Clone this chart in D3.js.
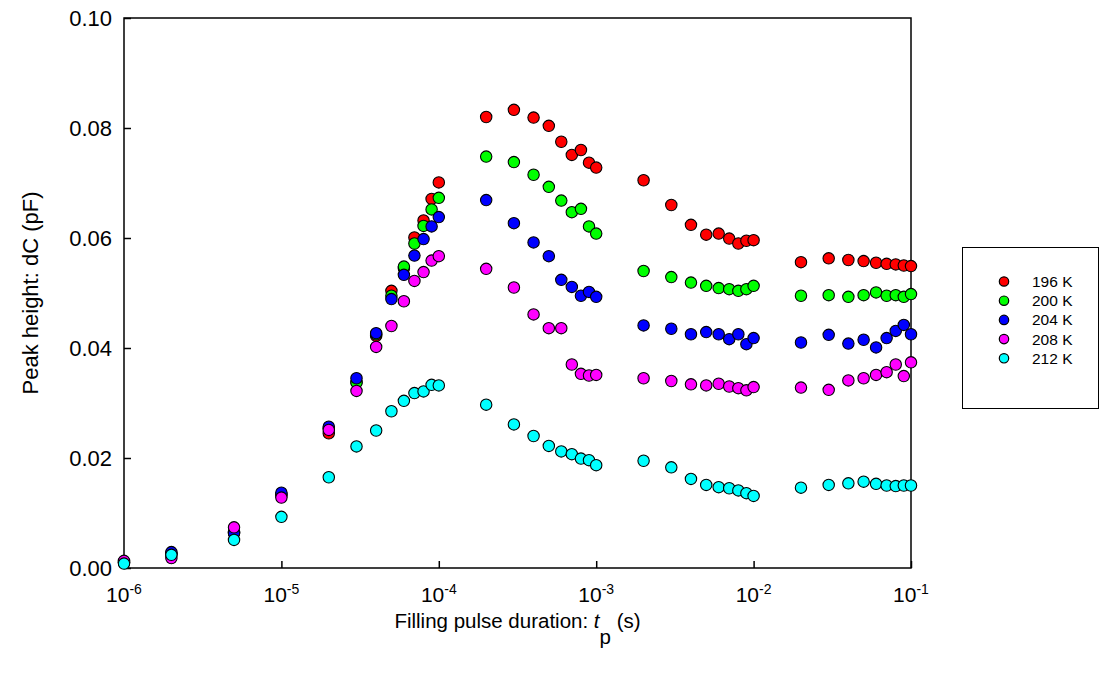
<!DOCTYPE html>
<html>
<head>
<meta charset="utf-8">
<script src="https://cdn.jsdelivr.net/npm/d3@7"></script>
<style>
  body { margin: 0; background: #fff; }
  svg { display: block; font-family: Arial, "Liberation Sans", sans-serif; }
</style>
</head>
<body>
<div id="plot"></div>
<script>
// data
var pulseTimes = [1e-6, 2e-6, 5e-6, 1e-5, 2e-5, 3e-5, 4e-5, 5e-5, 6e-5, 7e-5, 8e-5, 9e-5, 1e-4,
    2e-4, 3e-4, 4e-4, 5e-4, 6e-4, 7e-4, 8e-4, 9e-4, 1e-3,
    2e-3, 3e-3, 4e-3, 5e-3, 6e-3, 7e-3, 8e-3, 9e-3, 1e-2,
    2e-2, 3e-2, 4e-2, 5e-2, 6e-2, 7e-2, 8e-2, 9e-2, 1e-1];

var temps = ["196 K", "200 K", "204 K", "208 K", "212 K"];
var colors = ["#ff0000", "#00ff00", "#0000ff", "#ff00ff", "#00ffff"];

var dc196 = [0.0010, 0.0025, 0.0065, 0.0132, 0.0245, 0.0338, 0.0422, 0.0504, 0.0545, 0.0601, 0.0632, 0.0671, 0.0701,
    0.0820, 0.0833, 0.0819, 0.0804, 0.0775, 0.0751, 0.0760, 0.0737, 0.0728,
    0.0705, 0.0660, 0.0624, 0.0606, 0.0608, 0.0599, 0.0590, 0.0595, 0.0596,
    0.0556, 0.0563, 0.0560, 0.0558, 0.0555, 0.0553, 0.0552, 0.0550, 0.0549];
var dc200 = [0.0010, 0.0026, 0.0064, 0.0134, 0.0254, 0.0337, 0.0425, 0.0495, 0.0548, 0.0590, 0.0622, 0.0652, 0.0673,
    0.0748, 0.0738, 0.0715, 0.0693, 0.0668, 0.0647, 0.0653, 0.0621, 0.0608,
    0.0540, 0.0529, 0.0519, 0.0513, 0.0509, 0.0507, 0.0504, 0.0507, 0.0513,
    0.0495, 0.0496, 0.0493, 0.0496, 0.0501, 0.0495, 0.0496, 0.0493, 0.0498];
var dc204 = [0.0011, 0.0029, 0.0063, 0.0137, 0.0257, 0.0345, 0.0427, 0.0489, 0.0533, 0.0568, 0.0598, 0.0621, 0.0638,
    0.0669, 0.0627, 0.0592, 0.0567, 0.0524, 0.0511, 0.0495, 0.0502, 0.0493,
    0.0441, 0.0435, 0.0425, 0.0429, 0.0425, 0.0416, 0.0425, 0.0407, 0.0418,
    0.0410, 0.0424, 0.0408, 0.0415, 0.0401, 0.0418, 0.0431, 0.0442, 0.0425];
var dc208 = [0.0013, 0.0018, 0.0074, 0.0128, 0.0251, 0.0322, 0.0402, 0.0440, 0.0485, 0.0522, 0.0538, 0.0559, 0.0567,
    0.0544, 0.0510, 0.0461, 0.0436, 0.0436, 0.0370, 0.0353, 0.0350, 0.0351,
    0.0345, 0.0340, 0.0334, 0.0332, 0.0335, 0.0330, 0.0327, 0.0323, 0.0329,
    0.0328, 0.0324, 0.0341, 0.0345, 0.0351, 0.0356, 0.0370, 0.0349, 0.0374];
var dc212 = [0.0008, 0.0024, 0.0051, 0.0093, 0.0165, 0.0221, 0.0250, 0.0285, 0.0304, 0.0318, 0.0321, 0.0333, 0.0332,
    0.0297, 0.0261, 0.0240, 0.0222, 0.0212, 0.0207, 0.0199, 0.0196, 0.0187,
    0.0195, 0.0183, 0.0162, 0.0151, 0.0147, 0.0145, 0.0141, 0.0136, 0.0131,
    0.0146, 0.0151, 0.0154, 0.0157, 0.0153, 0.0150, 0.0149, 0.0150, 0.0150];

var xTicks = [1e-6, 1e-5, 1e-4, 1e-3, 1e-2, 1e-1];
var xTickExp = ["-6", "-5", "-4", "-3", "-2", "-1"];
var yTicks = [0, 0.02, 0.04, 0.06, 0.08, 0.10];

var series = [dc196, dc200, dc204, dc208, dc212];

var W = 1100, H = 676;
var margin = {t: 18, r: 189, b: 108, l: 124};
var width = W - margin.l - margin.r,
    height = H - margin.t - margin.b;

var svg = d3.select('#plot')
    .append('svg')
    .attr('width', W)
    .attr('height', H);

var scaleX = d3.scaleLog().domain([1e-6, 1e-1]).range([0, width]);
var scaleY = d3.scaleLinear().domain([0, 0.10]).range([height, 0]);

var plot = svg.append('g')
    .attr('transform', 'translate(' + margin.l + ',' + margin.t + ')');

// axes, ticks point into the frame
var axisX = d3.axisBottom(scaleX).tickValues(xTicks).tickSizeInner(-7).tickSizeOuter(0).tickFormat('');
var axisY = d3.axisLeft(scaleY).tickValues(yTicks).tickSizeInner(-7).tickSizeOuter(0).tickFormat('');

plot.append('g').attr('class', 'axis-x')
    .attr('transform', 'translate(0,' + height + ')')
    .call(axisX);
plot.append('g').attr('class', 'axis-y')
    .call(axisY);

plot.selectAll('.domain').remove();
plot.selectAll('.tick line').attr('stroke', '#000').attr('stroke-width', 1.5);

// frame
plot.append('rect')
    .attr('x', 0).attr('y', 0)
    .attr('width', width).attr('height', height)
    .attr('fill', 'none')
    .attr('stroke', '#000')
    .attr('stroke-width', 1.5);

// y tick labels
plot.selectAll('.ylab')
    .data(yTicks)
    .enter()
    .append('text')
    .attr('class', 'ylab')
    .attr('x', -12)
    .attr('y', function(d) { return scaleY(d); })
    .attr('dy', '0.36em')
    .attr('text-anchor', 'end')
    .style('font-size', '22px')
    .text(function(d) { return d3.format('.2f')(d); });

// x tick labels 10^n
var xl = plot.selectAll('.xlab')
    .data(xTicks)
    .enter()
    .append('text')
    .attr('class', 'xlab')
    .attr('x', function(d) { return scaleX(d); })
    .attr('y', height + 34)
    .attr('text-anchor', 'middle')
    .style('font-size', '21px');
xl.append('tspan').text('10');
xl.append('tspan')
    .attr('dy', -8)
    .style('font-size', '14px')
    .text(function(d, i) { return xTickExp[i]; });

// points, one group per temperature
series.forEach(function(vals, k) {
    plot.append('g')
        .selectAll('circle')
        .data(vals)
        .enter()
        .append('circle')
        .attr('cx', function(d, i) { return scaleX(pulseTimes[i]); })
        .attr('cy', function(d) { return scaleY(d); })
        .attr('r', 5.7)
        .attr('fill', colors[k])
        .attr('stroke', '#000')
        .attr('stroke-width', 1.1);
});

// axis titles
var xt = svg.append('text')
    .attr('x', margin.l + width / 2)
    .attr('y', 628)
    .attr('text-anchor', 'middle')
    .style('font-size', '20.5px');
xt.append('tspan').text('Filling pulse duration: ');
xt.append('tspan').style('font-style', 'italic').text('t');
xt.append('tspan').attr('dy', 16).text('p');
xt.append('tspan').attr('dy', -16).text(' (s)');

svg.append('text')
    .attr('transform', 'translate(38,293) rotate(-90)')
    .attr('text-anchor', 'middle')
    .style('font-size', '22px')
    .text('Peak height: dC (pF)');

// legend
var legend = svg.append('g');
legend.append('rect')
    .attr('x', 962.5).attr('y', 247.5)
    .attr('width', 136).attr('height', 161)
    .attr('fill', '#fff')
    .attr('stroke', '#000')
    .attr('stroke-width', 1);

var rows = legend.selectAll('.row')
    .data(temps)
    .enter()
    .append('g')
    .attr('class', 'row')
    .attr('transform', function(d, i) { return 'translate(1004,' + (281.5 + i * 19.2) + ')'; });
rows.append('circle')
    .attr('r', 4.7)
    .attr('fill', function(d, i) { return colors[i]; })
    .attr('stroke', '#000')
    .attr('stroke-width', 1.2);
rows.append('text')
    .attr('x', 28)
    .attr('dy', '0.36em')
    .style('font-size', '15.5px')
    .text(function(d) { return d; });
</script>
</body>
</html>
